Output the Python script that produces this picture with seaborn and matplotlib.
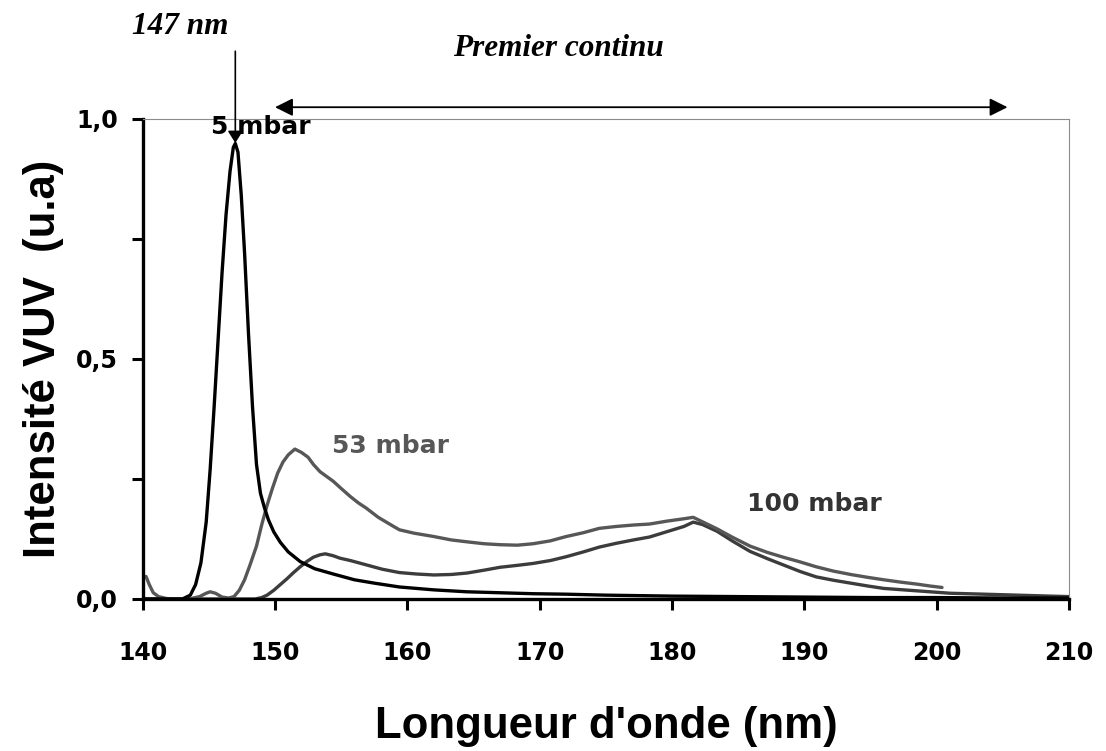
import numpy as np
import pandas as pd
import seaborn as sns
import matplotlib.pyplot as plt
from matplotlib.ticker import FixedLocator

# Emission spectra of the VUV lamp at three pressures
wl_5 = [140.0, 141.0, 142.0, 143.0, 143.6, 144.0, 144.4, 144.8, 145.1, 145.4, 145.7,
        146.0, 146.3, 146.6, 146.85, 147.0, 147.2, 147.45, 147.7, 148.0, 148.3, 148.6,
        148.9, 149.2, 149.5, 149.9, 150.4, 151.0, 151.9, 153.0, 154.4, 156.0, 157.5,
        159.4, 162.0, 164.5, 167.0, 169.5, 172.0, 175.0, 180.0, 185.0, 190.0, 195.0,
        200.0, 205.0, 210.0]
int_5 = [0.0, 0.0, 0.0, 0.0, 0.008, 0.03, 0.075, 0.16, 0.27, 0.40, 0.54,
         0.68, 0.80, 0.89, 0.94, 0.948, 0.93, 0.84, 0.72, 0.55, 0.40, 0.28,
         0.22, 0.19, 0.165, 0.14, 0.118, 0.098, 0.078, 0.063, 0.052, 0.040, 0.033,
         0.025, 0.019, 0.015, 0.013, 0.011, 0.010, 0.008, 0.006, 0.005, 0.004, 0.003,
         0.003, 0.002, 0.002]

wl_53 = [140.25, 140.5, 140.8, 141.2, 141.8, 142.5, 143.5, 144.3, 144.8, 145.1, 145.5,
         146.0, 146.5, 146.9, 147.3, 147.7, 148.1, 148.6, 149.0, 149.4, 149.8, 150.2,
         150.6, 151.0, 151.5, 152.0, 152.5, 152.9, 153.4, 153.9, 154.4, 155.0, 155.7,
         156.3, 156.9, 157.8, 158.9, 159.4, 160.5, 162.0, 163.3, 164.5, 165.8, 167.0,
         168.3, 169.5, 170.8, 172.0, 173.3, 174.5, 175.8, 177.1, 178.3, 179.6, 180.9,
         181.6, 182.5, 183.4, 184.6, 185.9, 187.2, 188.4, 189.7, 190.9, 192.2, 193.5,
         194.8, 196.0, 197.3, 198.5, 199.5, 200.4]
int_53 = [0.047, 0.03, 0.013, 0.005, 0.001, 0.0, 0.0, 0.005, 0.012, 0.015, 0.012,
          0.004, 0.002, 0.005, 0.018, 0.04, 0.07, 0.11, 0.155, 0.195, 0.23, 0.262,
          0.285, 0.300, 0.312, 0.305, 0.295, 0.28, 0.265, 0.255, 0.245, 0.23, 0.213,
          0.2, 0.189, 0.17, 0.152, 0.144, 0.137, 0.13, 0.123, 0.119, 0.115, 0.113,
          0.112, 0.115, 0.121, 0.13, 0.138, 0.147, 0.151, 0.154, 0.156, 0.162, 0.167,
          0.170, 0.158, 0.146, 0.128, 0.11, 0.097, 0.087, 0.077, 0.067, 0.058, 0.051,
          0.045, 0.040, 0.035, 0.031, 0.027, 0.024]

wl_100 = [140.0, 148.5, 149.0, 149.4, 149.9, 150.4, 150.9, 151.4, 151.9, 152.4, 152.9,
          153.4, 153.8, 154.4, 154.9, 155.7, 156.9, 158.1, 159.4, 160.7, 162.0, 163.3,
          164.5, 165.8, 167.0, 168.3, 169.5, 170.8, 172.0, 173.3, 174.5, 175.8, 177.1,
          178.3, 179.6, 180.9, 181.6, 182.3, 183.4, 184.6, 185.9, 187.2, 188.4, 189.7,
          190.9, 192.2, 193.5, 194.8, 196.0, 198.5, 201.0, 203.6, 206.1, 208.6, 210.0]
int_100 = [0.0, 0.0, 0.003, 0.008, 0.018, 0.03, 0.042, 0.055, 0.067, 0.078, 0.087,
           0.092, 0.094, 0.09, 0.085, 0.08, 0.071, 0.062, 0.055, 0.052, 0.05, 0.051,
           0.054, 0.06, 0.066, 0.07, 0.074, 0.08, 0.088, 0.098, 0.108, 0.116, 0.123,
           0.129, 0.14, 0.151, 0.16, 0.155, 0.141, 0.12, 0.099, 0.084, 0.071, 0.057,
           0.046, 0.039, 0.033, 0.027, 0.022, 0.017, 0.012, 0.010, 0.008, 0.006, 0.005]

x_ticks = [140, 150, 160, 170, 180, 190, 200, 210]
x_tick_labels = ["140", "150", "160", "170", "180", "190", "200", "210"]
y_ticks = [0.0, 0.5, 1.0]
y_tick_labels = ["0,0", "0,5", "1,0"]
y_minor_ticks = [0.25, 0.75]

series_colors = {"100 mbar": "#3c3c3c", "53 mbar": "#575757", "5 mbar": "#000000"}

df = pd.concat([
    pd.DataFrame({"wl": wl_100, "val": int_100, "serie": "100 mbar"}),
    pd.DataFrame({"wl": wl_53, "val": int_53, "serie": "53 mbar"}),
    pd.DataFrame({"wl": wl_5, "val": int_5, "serie": "5 mbar"}),
], ignore_index=True)

sns.set_theme(style="ticks")
plt.rcParams["font.family"] = ["DejaVu Sans"]
plt.rcParams["text.color"] = "black"
plt.rcParams["axes.labelcolor"] = "black"
plt.rcParams["xtick.color"] = "black"
plt.rcParams["ytick.color"] = "black"

fig = plt.figure(figsize=(11.06, 7.51), dpi=100)
ax = fig.add_axes([0.129, 0.2024, 0.8376, 0.6398])

sns.lineplot(data=df, x="wl", y="val", hue="serie",
             hue_order=["100 mbar", "53 mbar", "5 mbar"],
             palette=series_colors, estimator=None, sort=False,
             linewidth=2.4, legend=False, ax=ax)

ax.set_xlim(140, 210)
ax.set_ylim(0, 1)
ax.set_xticks(x_ticks)
ax.set_xticklabels(x_tick_labels)
ax.set_yticks(y_ticks)
ax.set_yticklabels(y_tick_labels)
ax.yaxis.set_minor_locator(FixedLocator(y_minor_ticks))
ax.tick_params(axis="both", which="both", direction="out", length=8,
               width=2.2, color="black", labelcolor="black")
ax.tick_params(axis="x", pad=22, labelsize=17)
ax.tick_params(axis="y", pad=9.6, labelsize=17)
for lbl in ax.get_xticklabels() + ax.get_yticklabels():
    lbl.set_fontweight("bold")

for side in ("left", "bottom"):
    ax.spines[side].set_linewidth(2.4)
    ax.spines[side].set_color("black")
for side in ("top", "right"):
    ax.spines[side].set_visible(True)
    ax.spines[side].set_linewidth(0.8)
    ax.spines[side].set_color("#8c8c8c")

ax.set_xlabel("Longueur d'onde (nm)", fontsize=31.5, fontweight="bold",
              family="Liberation Sans", color="black")
ax.xaxis.set_label_coords(0.5, -0.290)
ax.xaxis.label.set_va("baseline")
ax.set_ylabel("Intensité VUV  (u.a)", fontsize=31.5, fontweight="bold",
              family="Liberation Sans", color="black")
ax.yaxis.set_label_coords(-0.0947, 0.5)
ax.yaxis.label.set_va("baseline")

# pressure labels
ax.text(145.2, 0.967, "5 mbar", fontsize=18, fontweight="bold", color="black",
        ha="left", va="baseline")
ax.text(154.3, 0.3035, "53 mbar", fontsize=18, fontweight="bold",
        color=series_colors["53 mbar"], ha="left", va="baseline")
ax.text(185.7, 0.184, "100 mbar", fontsize=18, fontweight="bold",
        color="#333333", ha="left", va="baseline")

# resonance line marker and first continuum span
ax.text(142.8, 1.175, "147 nm", family="Liberation Serif", style="italic",
        fontweight="bold", fontsize=22.5, ha="center", va="baseline",
        color="black", clip_on=False)
ax.annotate("", xy=(147, 0.949), xytext=(147, 1.140),
            arrowprops=dict(arrowstyle="-|>,head_length=0.4,head_width=0.25",
                            mutation_scale=18, lw=1.2, color="black",
                            shrinkA=0, shrinkB=0),
            annotation_clip=False)
ax.text(171.4, 1.131, "Premier continu", family="Liberation Serif", style="italic",
        fontweight="bold", fontsize=22.5, ha="center", va="baseline",
        color="black", clip_on=False)
ax.annotate("", xy=(205.35, 1.0235), xytext=(150, 1.0235),
            arrowprops=dict(arrowstyle="<|-|>,head_length=0.4,head_width=0.2",
                            mutation_scale=27, lw=1.3, color="black",
                            shrinkA=0, shrinkB=0),
            annotation_clip=False)

fig.savefig("out.png", dpi=100)
